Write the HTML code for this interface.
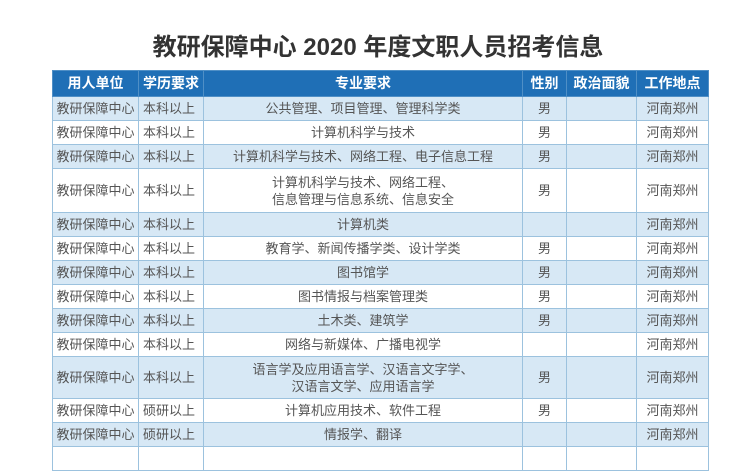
<!DOCTYPE html>
<html><head><meta charset="utf-8"><style>
body{margin:0;width:756px;height:460px;background:#fff;overflow:hidden;position:relative;font-family:"Liberation Sans","Noto Sans CJK SC",sans-serif}
h1{position:absolute;left:0;top:32px;width:756px;margin:0;text-align:center;font-size:24px;font-weight:bold;color:#333;line-height:32px}
table{position:absolute;left:52px;top:70px;border-collapse:collapse;table-layout:fixed;width:656px}
td,th{border:1px solid #9cc2de;padding:0;text-align:center;font-size:13px;color:#555;line-height:17px;font-weight:normal}
th{background:#1f6fb6;color:#fff;font-weight:bold;font-size:14px;border-color:#4f8fc6}
tr.b td{background:#d7e8f5}
td.l{text-align:left;padding-left:4px}
</style></head><body>
<h1>教研保障中心 2020 年度文职人员招考信息</h1>
<table>
<colgroup><col style="width:86px"><col style="width:65px"><col style="width:319px"><col style="width:44px"><col style="width:70px"><col style="width:72px"></colgroup>
<tr style="height:26px"><th>用人单位</th><th>学历要求</th><th>专业要求</th><th>性别</th><th>政治面貌</th><th>工作地点</th></tr>
<tr class="b" style="height:24px"><td>教研保障中心</td><td class="l">本科以上</td><td>公共管理、项目管理、管理科学类</td><td>男</td><td></td><td>河南郑州</td></tr>
<tr style="height:24px"><td>教研保障中心</td><td class="l">本科以上</td><td>计算机科学与技术</td><td>男</td><td></td><td>河南郑州</td></tr>
<tr class="b" style="height:24px"><td>教研保障中心</td><td class="l">本科以上</td><td>计算机科学与技术、网络工程、电子信息工程</td><td>男</td><td></td><td>河南郑州</td></tr>
<tr style="height:44px"><td>教研保障中心</td><td class="l">本科以上</td><td>计算机科学与技术、网络工程、<br>信息管理与信息系统、信息安全</td><td>男</td><td></td><td>河南郑州</td></tr>
<tr class="b" style="height:24px"><td>教研保障中心</td><td class="l">本科以上</td><td>计算机类</td><td></td><td></td><td>河南郑州</td></tr>
<tr style="height:24px"><td>教研保障中心</td><td class="l">本科以上</td><td>教育学、新闻传播学类、设计学类</td><td>男</td><td></td><td>河南郑州</td></tr>
<tr class="b" style="height:24px"><td>教研保障中心</td><td class="l">本科以上</td><td>图书馆学</td><td>男</td><td></td><td>河南郑州</td></tr>
<tr style="height:24px"><td>教研保障中心</td><td class="l">本科以上</td><td>图书情报与档案管理类</td><td>男</td><td></td><td>河南郑州</td></tr>
<tr class="b" style="height:24px"><td>教研保障中心</td><td class="l">本科以上</td><td>土木类、建筑学</td><td>男</td><td></td><td>河南郑州</td></tr>
<tr style="height:24px"><td>教研保障中心</td><td class="l">本科以上</td><td>网络与新媒体、广播电视学</td><td></td><td></td><td>河南郑州</td></tr>
<tr class="b" style="height:42px"><td>教研保障中心</td><td class="l">本科以上</td><td>语言学及应用语言学、汉语言文字学、<br>汉语言文学、应用语言学</td><td>男</td><td></td><td>河南郑州</td></tr>
<tr style="height:24px"><td>教研保障中心</td><td class="l">硕研以上</td><td>计算机应用技术、软件工程</td><td>男</td><td></td><td>河南郑州</td></tr>
<tr class="b" style="height:24px"><td>教研保障中心</td><td class="l">硕研以上</td><td>情报学、翻译</td><td></td><td></td><td>河南郑州</td></tr>
<tr style="height:24px"><td></td><td></td><td></td><td></td><td></td><td></td></tr>
</table>
</body></html>
